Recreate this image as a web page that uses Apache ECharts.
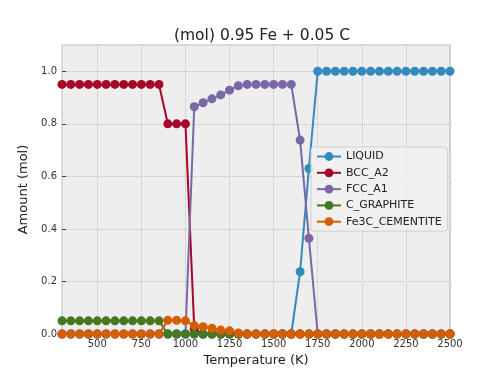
<!DOCTYPE html>
<html>
<head>
<meta charset="utf-8">
<script src="https://cdn.jsdelivr.net/npm/echarts@6/dist/echarts.min.js"></script>
<style>
html,body{margin:0;padding:0;background:#fff;}
#c{width:500px;height:375px;}
</style>
</head>
<body>
<div id="c"></div>
<script>
var temps = [300,350,400,450,500,550,600,650,700,750,800,850,900,950,1000,1050,1100,1150,1200,1250,1300,1350,1400,1450,1500,1550,1600,1650,1700,1750,1800,1850,1900,1950,2000,2050,2100,2150,2200,2250,2300,2350,2400,2450,2500];
var liquid = [0,0,0,0,0,0,0,0,0,0,0,0,0,0,0,0,0,0,0,0,0,0,0,0,0,0,0,0.237,0.63,1,1,1,1,1,1,1,1,1,1,1,1,1,1,1,1];
var bcc = [0.95,0.95,0.95,0.95,0.95,0.95,0.95,0.95,0.95,0.95,0.95,0.95,0.80,0.80,0.80,0.02,0,0,0,0,0,0,0,0,0,0,0,0,0,0,0,0,0,0,0,0,0,0,0,0,0,0,0,0,0];
var fcc = [0,0,0,0,0,0,0,0,0,0,0,0,0,0,0,0.865,0.88,0.895,0.91,0.928,0.945,0.95,0.95,0.95,0.95,0.95,0.95,0.738,0.364,0,0,0,0,0,0,0,0,0,0,0,0,0,0,0,0];
var graphite = [0.05,0.05,0.05,0.05,0.05,0.05,0.05,0.05,0.05,0.05,0.05,0.05,0,0,0,0,0,0,0,0,0,0,0,0,0,0,0,0,0,0,0,0,0,0,0,0,0,0,0,0,0,0,0,0,0];
var cementite = [0,0,0,0,0,0,0,0,0,0,0,0,0.052,0.052,0.05,0.032,0.028,0.022,0.015,0.012,0.004,0,0,0,0,0,0,0,0,0,0,0,0,0,0,0,0,0,0,0,0,0,0,0,0];
var seriesNames = ['LIQUID','BCC_A2','FCC_A1','C_GRAPHITE','Fe3C_CEMENTITE'];
var seriesColors = ['#348ABD','#A60628','#7A68A6','#467821','#D55E00'];
var xTicks = [500,750,1000,1250,1500,1750,2000,2250,2500];
var yTicks = [0,0.2,0.4,0.6,0.8,1.0];

var allData = [liquid,bcc,fcc,graphite,cementite];
var font = 'DejaVu Sans';
var chart = echarts.init(document.getElementById('c'), null, {renderer:'canvas'});
chart.setOption({
  animation:false,
  backgroundColor:'#ffffff',
  title:{text:'(mol) 0.95 Fe + 0.05 C', left:257, textAlign:'center', top:23,
    textStyle:{fontFamily:font,fontSize:15.5,fontWeight:'normal',color:'#222'}},
  grid:{left:62,right:50,top:45,bottom:41,show:true,backgroundColor:'#eeeeee',borderColor:'#bcbcbc',borderWidth:1},
  legend:{orient:'vertical',left:311,top:147,padding:[4,6,4,5],itemWidth:24,itemHeight:11,itemGap:5.3,
    backgroundColor:'rgba(240,240,240,0.85)',borderColor:'#d0d0d0',borderWidth:1,borderRadius:3,
    textStyle:{fontFamily:font,fontSize:11,color:'#222',lineHeight:11},
    data:seriesNames},
  xAxis:{type:'value',min:300,max:2500,
    name:'Temperature (K)',nameLocation:'middle',nameGap:18,
    nameTextStyle:{fontFamily:font,fontSize:13,color:'#222'},
    axisLine:{show:false},
    axisTick:{show:true,inside:true,length:4,customValues:xTicks,lineStyle:{color:'#444'}},
    axisLabel:{customValues:xTicks,margin:5,fontFamily:font,fontSize:10,color:'#333',
      formatter:function(v){return String(v);}},
    splitLine:{show:true,lineStyle:{type:'dotted',color:'#c0c0c0',width:1}}},
  yAxis:{type:'value',min:0,max:1.1,
    name:'Amount (mol)',nameLocation:'middle',nameGap:24,
    nameTextStyle:{fontFamily:font,fontSize:13,color:'#222'},
    axisLine:{show:false},
    axisTick:{show:true,inside:true,length:4,customValues:yTicks,lineStyle:{color:'#444'}},
    axisLabel:{customValues:yTicks,margin:5,fontFamily:font,fontSize:10,color:'#333',
      formatter:function(v){return v.toFixed(1);}},
    splitLine:{show:true,lineStyle:{type:'dotted',color:'#c0c0c0',width:1}}},
  series:seriesNames.map(function(n,i){
    return {name:n,type:'line',symbol:'circle',symbolSize:9,showSymbol:true,
      color:seriesColors[i],lineStyle:{width:2,color:seriesColors[i]},
      itemStyle:{color:seriesColors[i]},
      data:temps.map(function(t,j){return [t,allData[i][j]];})};
  })
});
</script>
</body>
</html>
